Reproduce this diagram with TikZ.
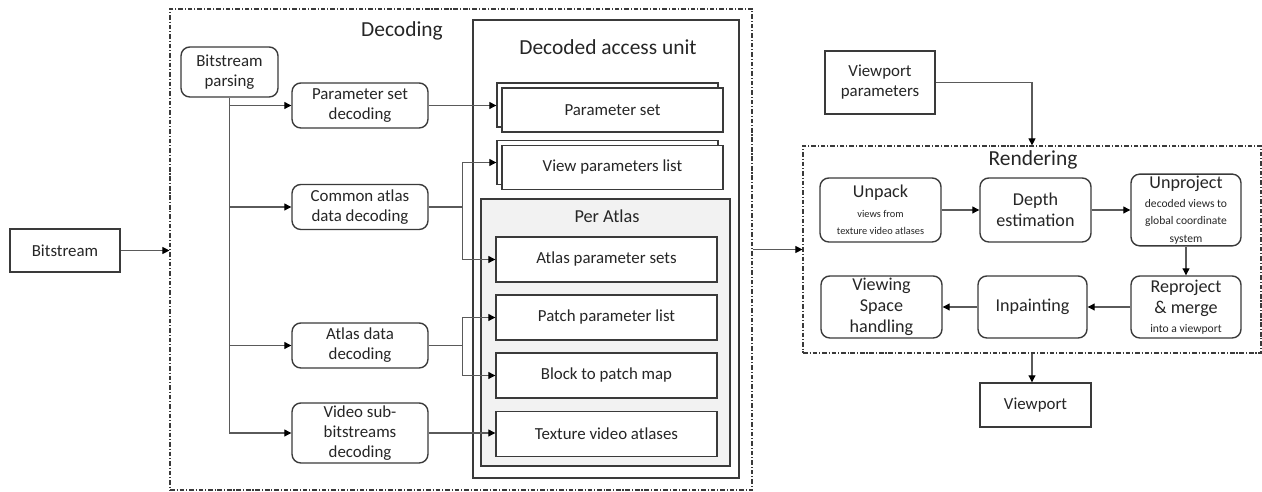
\documentclass[tikz,border=0pt]{standalone}
\usepackage{fontspec}
\setmainfont{Carlito}
\usetikzlibrary{arrows.meta}
\definecolor{ink}{HTML}{262626}
\definecolor{edge}{HTML}{3A3A3A}
\definecolor{wire}{HTML}{5A5A5A}
\definecolor{atlasbg}{HTML}{F2F2F2}
\newcommand{\tinyfs}{\fontsize{5.9}{7}\selectfont}
\newcommand{\smallfs}{\fontsize{6.6}{7.6}\selectfont}
% two stacked sheets: back one up-left, front one carries the text
\newcommand{\pstack}[4]{\node[blk,minimum width=4.42cm,minimum height=0.88cm] (#1b) at (#2-5,#3-5){};\node[blk,minimum width=4.42cm,minimum height=0.88cm] (#1) at (#2,#3){#4};}

\begin{document}
\begin{tikzpicture}[x=0.02cm,y=-0.02cm,font=\fontsize{9.6}{11.4}\selectfont,text=ink,
 blk/.style={draw=edge,line width=.8pt,fill=white,inner sep=1pt,align=center},
 rblk/.style={blk,rounded corners=5pt},
 frame/.style={draw=edge,line width=.7pt,dash pattern=on 2.6pt off 1.1pt on .6pt off 1.1pt},
 arr/.style={wire,line width=.6pt,-{Triangle[length=4pt,width=4pt,color=black]}},
 ttl/.style={font=\fontsize{12.2}{14}\selectfont},
 rtxt/.style={font=\fontsize{10.3}{11.9}\selectfont}]
\useasboundingbox (0,0) rectangle (1262,492);
% decoding side
\node[frame,minimum width=11.64cm,minimum height=9.62cm] (decoding) at (461,249.5){};
\node[ttl] (declbl) at (402,31){Decoding};
\node[blk,minimum width=2.2cm,minimum height=0.86cm] (bs) at (65,250.5){Bitstream};
\node[rblk,minimum width=1.94cm,minimum height=1cm] (parse) at (229.5,72){Bitstream\\parsing};
\foreach \n/\y/\t in {psd/105.5/Parameter set\\decoding,cad/207/Common atlas\\data decoding,adc/345.5/Atlas data\\decoding}
 {\node[rblk,minimum width=2.72cm,minimum height=0.9cm] (\n) at (360,\y){\t};}
\node[rblk,minimum width=2.72cm,minimum height=1.2cm] (vsd) at (360,433){Video sub-\\bitstreams\\decoding};
\node[draw=edge,line width=1pt,minimum width=5.32cm,minimum height=9.16cm] (dau) at (606,249){};
\node[ttl] (daulbl) at (608,47){Decoded access unit};
\pstack{ps}{612.5}{110}{Parameter set}
\pstack{vpl}{612.5}{167.5}{View parameters list}
\node[draw=edge,fill=atlasbg,line width=.8pt,minimum width=4.98cm,minimum height=5.34cm] (peratlas) at (605.5,332.5){};
\node[font=\fontsize{10.4}{12}\selectfont] (palbl) at (607,216){Per Atlas};
\foreach \n/\y/\t in {aps/259.5/Atlas parameter sets,ppl/317.5/Patch parameter list,bpm/375.5/Block to patch map,tva/434/Texture video atlases}
 {\node[blk,minimum width=4.42cm,minimum height=0.9cm] (\n) at (606.5,\y){\t};}
\draw[arr] (bs.east) -- (bs.east -| decoding.west);
\draw[arr] (parse.south) |- (vsd.west);
\foreach \n in {psd,cad,adc}{\draw[arr] (parse.south |- \n.west) -- (\n.west);}
\draw[arr] (psd.east) -- (psd.east -| psb.west);
\coordinate (jc) at ([xshift=0.68cm]cad.east);
\coordinate (ja) at ([xshift=0.68cm]adc.east);
\draw[wire,line width=.6pt] (cad.east) -- (jc) (adc.east) -- (ja);
\draw[arr] (jc) |- (vplb.west);
\draw[arr] (jc) |- (aps.west);
\draw[arr] (ja) |- (ppl.west);
\draw[arr] (ja) |- (bpm.west);
\draw[arr] (vsd.east) -- (vsd.east -| tva.west);
% rendering side
\node[frame,minimum width=9.16cm,minimum height=4.14cm] (render) at (1032,249.5){};
\node[ttl] (renlbl) at (1033,160){Rendering};
\node[blk,minimum width=2.2cm,minimum height=1.26cm] (vpp) at (880,82.5){Viewport\\parameters};
\node[rblk,rtxt,minimum width=2.42cm,minimum height=1.28cm] (unpack) at (880.5,210){Unpack\\[-1pt]\tinyfs views from\\[-2pt]\tinyfs texture video atlases};
\node[rblk,rtxt,minimum width=2.22cm,minimum height=1.28cm] (depth) at (1035.5,210){Depth\\estimation};
\node[rblk,rtxt,minimum width=2.2cm,minimum height=1.28cm] (unproj) at (1186,210){Unproject\\[-1pt]\smallfs decoded views to\\[-2pt]\smallfs global coordinate\\[-2pt]\smallfs system};
\node[rblk,rtxt,minimum width=2.2cm,minimum height=1.24cm] (reproj) at (1186,307){Reproject\\\& merge\\[-1pt]\smallfs into a viewport};
\node[rblk,rtxt,minimum width=2.18cm,minimum height=1.24cm] (inpaint) at (1032.5,307){Inpainting};
\node[rblk,rtxt,minimum width=2.42cm,minimum height=1.24cm] (vsh) at (881.5,307){Viewing\\Space\\handling};
\node[blk,minimum width=2.22cm,minimum height=0.88cm] (vp) at (1035.5,405){Viewport};
\draw[arr] (decoding.east |- render.west) -- (render.west);
\draw[arr] (vpp.east) -| (render.north);
\draw[arr] (unpack.east) -- (depth.west);
\draw[arr] (depth.east) -- (unproj.west);
\draw[arr] (unproj.south) -- (reproj.north);
\draw[arr] (reproj.west) -- (inpaint.east);
\draw[arr] (inpaint.west) -- (vsh.east);
\draw[arr] (render.south) -- (render.south |- vp.north);
\end{tikzpicture}
\end{document}
